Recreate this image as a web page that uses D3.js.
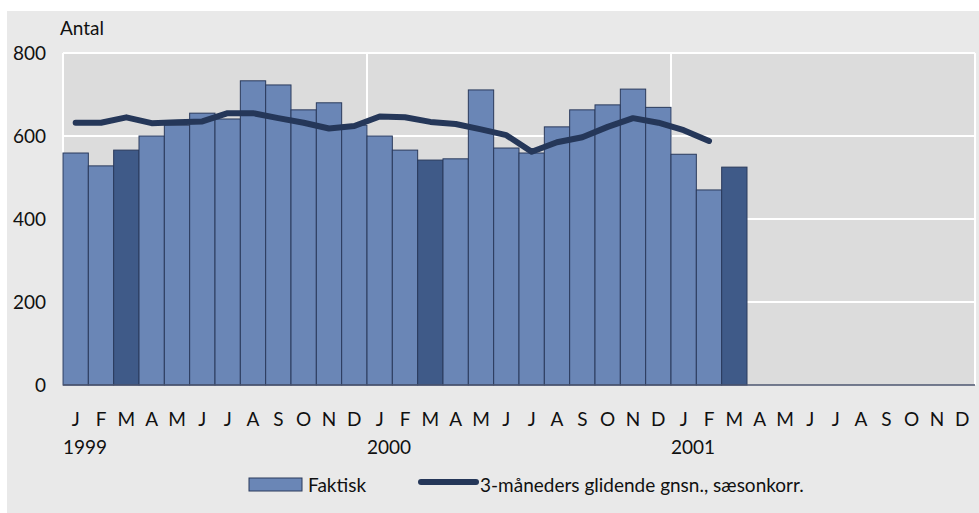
<!DOCTYPE html>
<html><head><meta charset="utf-8">
<script src="https://cdn.jsdelivr.net/npm/d3@7"></script>
<style>
html,body{margin:0;padding:0;background:#fff;}
svg text{font-family:Lato,"Open Sans",sans-serif;fill:#111;}
</style></head>
<body>
<script>
const monthLabels = ["J","F","M","A","M","J","J","A","S","O","N","D"];
const years = ["1999","2000","2001"];
const actual = [559,528,566,600,626,655,641,733,723,663,680,626,
                600,566,542,545,711,571,559,622,663,675,713,669,
                556,470,525];
const smoothed = [632,632,645,631,633,635,655,655,643,632,618,624,
                  647,645,634,629,616,602,562,585,597,622,643,632,
                  614,588];
const yTicks = [0,200,400,600,800];
const highlightMonth = 2; // March bars drawn darker

(function(){
const W = 979, H = 513, FS = 19;
const svg = d3.select("body").append("svg").attr("width", W).attr("height", H);

svg.append("rect").attr("x",7).attr("y",11).attr("width",W-7).attr("height",H-11).attr("fill","#e9e9e9");

const pL = 63, pR = 975, pT = 53, pB = 385;
const months = d3.range(years.length * 12);
const x = d3.scaleBand().domain(months).range([pL, pR]).padding(0);
const y = d3.scaleLinear().domain([0, 800]).range([pB, pT]);

svg.append("rect").attr("x",pL).attr("y",pT).attr("width",pR-pL).attr("height",pB-pT).attr("fill","#dcdcdc");

svg.append("g").selectAll("line").data(yTicks.filter(d=>d>0)).join("line")
  .attr("x1",pL).attr("x2",pR).attr("y1",d=>y(d)).attr("y2",d=>y(d))
  .attr("stroke","#fff").attr("stroke-width",2);
const vlines = [0,12,24].map(i=>x(i)).concat([pR]);
svg.append("g").selectAll("line").data(vlines).join("line")
  .attr("x1",d=>d).attr("x2",d=>d).attr("y1",pT).attr("y2",pB)
  .attr("stroke","#fff").attr("stroke-width",2);

svg.append("g").selectAll("rect").data(actual).join("rect")
  .attr("x",(d,i)=>x(i)).attr("width",x.bandwidth())
  .attr("y",d=>y(d)).attr("height",d=>pB-y(d))
  .attr("fill",(d,i)=>i%12===highlightMonth?"#3f5a88":"#6a86b6")
  .attr("stroke","#2a3a5c").attr("stroke-width",1);

svg.append("line").attr("x1",pL).attr("x2",pR).attr("y1",pB).attr("y2",pB)
  .attr("stroke","#4d5670").attr("stroke-width",1.3);

const line = d3.line().x((d,i)=>x(i)+x.bandwidth()/2).y(d=>y(d));
svg.append("path").datum(smoothed).attr("d",line).attr("fill","none")
  .attr("stroke","#253759").attr("stroke-width",6).attr("stroke-linecap","round").attr("stroke-linejoin","round");

svg.append("g").selectAll("text").data(yTicks).join("text")
  .attr("x",46).attr("y",d=>y(d)).attr("dy","0.36em").attr("text-anchor","end")
  .attr("font-size",FS).text(d=>d);
svg.append("text").attr("x",60).attr("y",35).attr("font-size",FS).text("Antal");

svg.append("g").selectAll("text").data(months).join("text")
  .attr("x",d=>x(d)+x.bandwidth()/2).attr("y",426).attr("text-anchor","middle")
  .attr("font-size",FS).text(d=>monthLabels[d%12]);
svg.append("g").selectAll("text").data(years).join("text")
  .attr("x",(d,i)=>x(i*12)).attr("y",454).attr("font-size",FS).text(d=>d);

const lg = svg.append("g");
lg.append("rect").attr("x",249).attr("y",478).attr("width",53).attr("height",13)
  .attr("fill","#6a86b6").attr("stroke","#2a3a5c").attr("stroke-width",1);
lg.append("text").attr("x",308).attr("y",492).attr("font-size",FS).text("Faktisk");
lg.append("line").attr("x1",421).attr("x2",476).attr("y1",482).attr("y2",482)
  .attr("stroke","#253759").attr("stroke-width",6).attr("stroke-linecap","round");
lg.append("text").attr("x",480).attr("y",492).attr("font-size",FS).text("3-måneders glidende gnsn., sæsonkorr.");
})();
</script>
</body></html>
